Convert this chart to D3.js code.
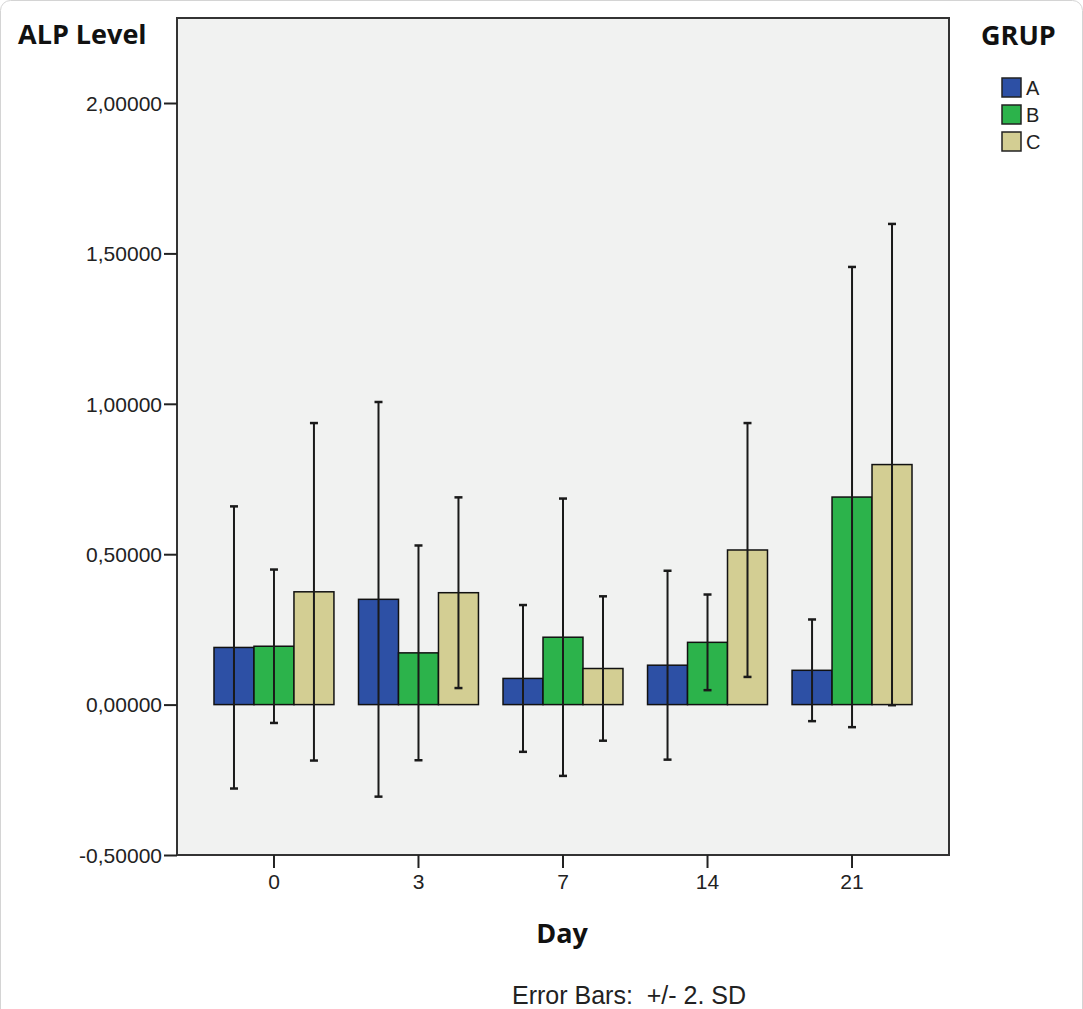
<!DOCTYPE html>
<html>
<head>
<meta charset="utf-8">
<script src="https://cdn.jsdelivr.net/npm/d3@7"></script>
<style>
  body { margin: 0; background: #fff; }
  svg text { font-family: "Liberation Sans", Arial, sans-serif; fill: #222; }
  .bold { font-family: "Open Sans", "DejaVu Sans", sans-serif !important; font-weight: 700; fill: #111 !important; }
</style>
</head>
<body>
<div id="chart"></div>
<script>
// data: group means and standard deviations (bars show +/- 2 SD)
const days = ["0", "3", "7", "14", "21"];
const groups = ["A", "B", "C"];
const groupColors = ["#2d50a5", "#2cb34b", "#d3ce93"];
const meanA = [0.190, 0.350, 0.087, 0.131, 0.114];
const meanB = [0.194, 0.172, 0.224, 0.207, 0.690];
const meanC = [0.375, 0.372, 0.120, 0.514, 0.798];
const sdA = [0.2345, 0.328, 0.122, 0.157, 0.0845];
const sdB = [0.1275, 0.1785, 0.2305, 0.0795, 0.3825];
const sdC = [0.2805, 0.1585, 0.120, 0.211, 0.400];
const yTicks = [-0.5, 0, 0.5, 1.0, 1.5, 2.0];

const means = [meanA, meanB, meanC];
const sds = [sdA, sdB, sdC];

const config = {
  width: 1083,
  height: 1009,
  plot: { left: 177, top: 18, right: 949, bottom: 855 }
};

const svg = d3.select("#chart").append("svg")
  .attr("width", config.width)
  .attr("height", config.height);

// faint outer border of the screenshot
svg.append("rect")
  .attr("x", 0.5).attr("y", 0.5)
  .attr("width", config.width - 1).attr("height", config.height + 10)
  .attr("rx", 10)
  .attr("fill", "none")
  .attr("stroke", "#d4d4d4");

const p = config.plot;

const x = d3.scaleBand()
  .domain(days)
  .range([p.left, p.right])
  .paddingInner(0.17)
  .paddingOuter(0.256);

const xInner = d3.scaleBand()
  .domain(groups)
  .range([0, x.bandwidth()]);

const y = d3.scaleLinear()
  .domain([-0.5, 2.2826])
  .range([p.bottom, p.top]);

// plot background
svg.append("rect")
  .attr("x", p.left).attr("y", p.top)
  .attr("width", p.right - p.left).attr("height", p.bottom - p.top)
  .attr("fill", "#f1f2f1");

// flatten into records
const records = [];
days.forEach((d, i) => {
  groups.forEach((g, j) => {
    records.push({ day: d, group: g, gi: j, mean: means[j][i], sd: sds[j][i] });
  });
});

const barG = svg.append("g");
barG.selectAll("rect")
  .data(records)
  .join("rect")
  .attr("x", d => x(d.day) + xInner(d.group))
  .attr("y", d => y(Math.max(0, d.mean)))
  .attr("width", xInner.bandwidth())
  .attr("height", d => Math.abs(y(d.mean) - y(0)))
  .attr("fill", d => groupColors[d.gi])
  .attr("stroke", "#111")
  .attr("stroke-width", 1.5);

// error bars
const errG = svg.append("g").attr("stroke", "#1a1a1a");
const cx = d => x(d.day) + xInner(d.group) + xInner.bandwidth() / 2;
errG.selectAll("line.stem")
  .data(records)
  .join("line")
  .attr("class", "stem")
  .attr("x1", cx).attr("x2", cx)
  .attr("y1", d => y(d.mean + 2 * d.sd))
  .attr("y2", d => y(d.mean - 2 * d.sd))
  .attr("stroke-width", 2);

["hi", "lo"].forEach(k => {
  errG.selectAll("line.cap-" + k)
    .data(records)
    .join("line")
    .attr("class", "cap-" + k)
    .attr("x1", d => cx(d) - 4).attr("x2", d => cx(d) + 4)
    .attr("y1", d => y(d.mean + (k === "hi" ? 2 : -2) * d.sd))
    .attr("y2", d => y(d.mean + (k === "hi" ? 2 : -2) * d.sd))
    .attr("stroke-width", 2.5);
});

// frame
svg.append("rect")
  .attr("x", p.left).attr("y", p.top)
  .attr("width", p.right - p.left).attr("height", p.bottom - p.top)
  .attr("fill", "none")
  .attr("stroke", "#333")
  .attr("stroke-width", 2);

// y axis, comma decimals and a plain hyphen for negatives
const fmt = v => d3.format(".5f")(v).replace(".", ",").replace("\u2212", "-");
const yAxis = svg.append("g")
  .attr("transform", `translate(${p.left},0)`)
  .call(d3.axisLeft(y).tickValues(yTicks).tickFormat(fmt).tickSize(13).tickPadding(2));
yAxis.select(".domain").remove();
yAxis.selectAll("line").attr("stroke", "#222").attr("stroke-width", 2);
yAxis.selectAll("text").attr("font-size", 21).attr("fill", "#222").attr("dy", "0.35em");

// x axis
const xAxis = svg.append("g")
  .attr("transform", `translate(0,${p.bottom})`)
  .call(d3.axisBottom(x).tickSize(13).tickPadding(6));
xAxis.select(".domain").remove();
xAxis.selectAll("line").attr("stroke", "#222").attr("stroke-width", 2);
xAxis.selectAll("text").attr("font-size", 21).attr("fill", "#222");

// titles
svg.append("text").attr("class", "bold")
  .attr("x", 18).attr("y", 44)
  .attr("font-size", 27)
  .text("ALP Level");

svg.append("text").attr("class", "bold")
  .attr("x", 562).attr("y", 943)
  .attr("text-anchor", "middle")
  .attr("font-size", 27)
  .text("Day");

svg.append("text")
  .attr("x", 512).attr("y", 1004)
  .attr("font-size", 25)
  .style("white-space", "pre")
  .text("Error Bars:  +/- 2. SD");

// legend
svg.append("text").attr("class", "bold")
  .attr("x", 981).attr("y", 45)
  .attr("font-size", 27)
  .text("GRUP");

const legend = svg.append("g").attr("transform", "translate(1002,78)");
const li = legend.selectAll("g")
  .data(groups)
  .join("g")
  .attr("transform", (d, i) => `translate(0,${i * 27})`);
li.append("rect")
  .attr("width", 19).attr("height", 19)
  .attr("fill", (d, i) => groupColors[i])
  .attr("stroke", "#222")
  .attr("stroke-width", 1.5);
li.append("text")
  .attr("x", 24).attr("y", 17)
  .attr("font-size", 20)
  .text(d => d);
</script>
</body>
</html>
